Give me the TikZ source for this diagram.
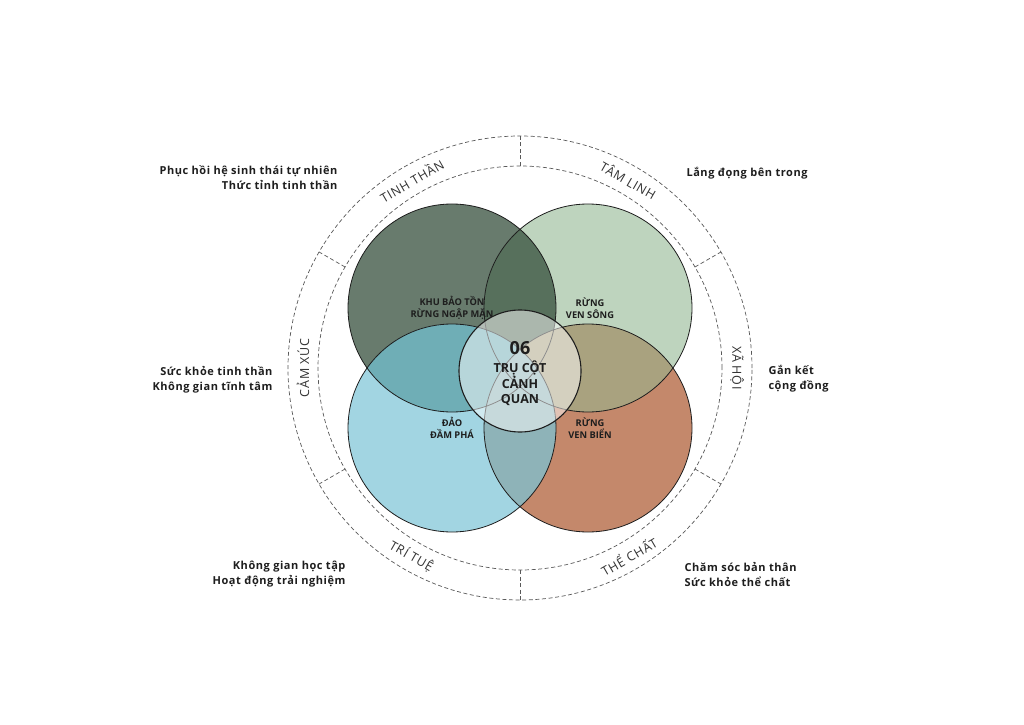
\documentclass[tikz,border=0pt]{standalone}
\usepackage{fontspec}
\usetikzlibrary{calc}
\setmainfont{Open Sans}
\definecolor{cTL}{HTML}{687B6D}
\definecolor{cTR}{HTML}{BED4BE}
\definecolor{cBL}{HTML}{A2D5E2}
\definecolor{cBR}{HTML}{C4886B}
\definecolor{cTLTR}{HTML}{57705C}
\definecolor{cTLBL}{HTML}{6FAEB6}
\definecolor{cTRBR}{HTML}{A9A27F}
\definecolor{cBLBR}{HTML}{8EB3B8}
\definecolor{ink}{HTML}{1E1E1E}
\begin{document}
\begin{tikzpicture}[x=1pt,y=1pt,
  circline/.style={draw=ink, line width=0.8pt},
  ringline/.style={draw=black!65, line width=0.7pt, dash pattern=on 4pt off 2.6pt},
  clabel/.style={font=\bfseries\fontsize{9.3}{12}\selectfont, text=ink, align=center},
  rlabel/.style={font=\addfontfeatures{LetterSpace=6}\fontsize{12.5}{14}\selectfont, text=black!80},
  olabel/.style={font=\bfseries\addfontfeatures{LetterSpace=5}\fontsize{11}{15}\selectfont, text=ink},
]
\useasboundingbox (0,0) rectangle (1024,724);
\fill[white] (0,0) rectangle (1024,724);
% centres
\coordinate (O) at (520,356);
\coordinate (TL) at (452,416);
\coordinate (TR) at (588,416);
\coordinate (BL) at (452,296);
\coordinate (BR) at (588,296);
\coordinate (M) at (520,353);
% base fills
\fill[cTL] (TL) circle (104);
\fill[cTR] (TR) circle (104);
\fill[cBL] (BL) circle (104);
\fill[cBR] (BR) circle (104);
% pair overlaps
\begin{scope}\clip (TL) circle (104); \fill[cTLTR] (TR) circle (104);\end{scope}
\begin{scope}\clip (TL) circle (104); \fill[cTLBL] (BL) circle (104);\end{scope}
\begin{scope}\clip (TR) circle (104); \fill[cTRBR] (BR) circle (104);\end{scope}
\begin{scope}\clip (BL) circle (104); \fill[cBLBR] (BR) circle (104);\end{scope}
% outlines
\draw[circline] (TL) circle (104);
\draw[circline] (TR) circle (104);
\draw[circline] (BL) circle (104);
\draw[circline] (BR) circle (104);
% circle labels
\node[clabel] (ltl) at (452,416) {KHU BẢO TỒN\\RỪNG NGẬP MẶN};
\node[clabel] (ltr) at (590,416) {RỪNG\\VEN SÔNG};
\node[clabel] (lbl) at (452,296) {ĐẢO\\ĐẦM PHÁ};
\node[clabel] (lbr) at (590,296) {RỪNG\\VEN BIỂN};
% centre circle
\fill[white, opacity=0.5] (M) circle (61);
\draw[draw=ink, line width=1.1pt] (M) circle (61);
\node[font=\bfseries\fontsize{18}{18}\selectfont, text=ink] (n06) at (520,376) {06};
\node[font=\bfseries\fontsize{12.5}{15}\selectfont, text=ink, align=center] (ntru) at (520,341) {TRỤ CỘT\\CẢNH\\QUAN};
% rings
\draw[ringline] (O) circle (202);
\draw[ringline] (O) circle (232);
\foreach \a in {30,90,150,210,270,330}
  \draw[ringline] ($(O)+(\a:202)$) -- ($(O)+(\a:232)$);
% ring labels
\node[rlabel, rotate=30] (r1) at ($(O)+(120:217)$) {TINH THẦN};
\node[rlabel, rotate=-30] (r2) at ($(O)+(60:217)$) {TÂM LINH};
\node[rlabel, rotate=90] (r3) at ($(O)+(180:217)$) {CẢM XÚC};
\node[rlabel, rotate=-90] (r4) at ($(O)+(0:217)$) {XÃ HỘI};
\node[rlabel, rotate=-30] (r5) at ($(O)+(240:217)$) {TRÍ TUỆ};
\node[rlabel, rotate=30] (r6) at ($(O)+(300:217)$) {THỂ CHẤT};
% outer labels
\node[olabel, anchor=east, align=right] (o1) at (341,546) {Phục hồi hệ sinh thái tự nhiên\\Thức tỉnh tinh thần};
\node[olabel, anchor=west, align=left] (o2) at (683,551) {Lắng đọng bên trong};
\node[olabel, anchor=east, align=right] (o3) at (276,344) {Sức khỏe tinh thần\\Không gian tĩnh tâm};
\node[olabel, anchor=west, align=left] (o4) at (765,345) {Gắn kết\\cộng đồng};
\node[olabel, anchor=east, align=right] (o5) at (349,150) {Không gian học tập\\Hoạt động trải nghiệm};
\node[olabel, anchor=west, align=left] (o6) at (681,150) {Chăm sóc bản thân\\Sức khỏe thể chất};
\end{tikzpicture}
\end{document}
